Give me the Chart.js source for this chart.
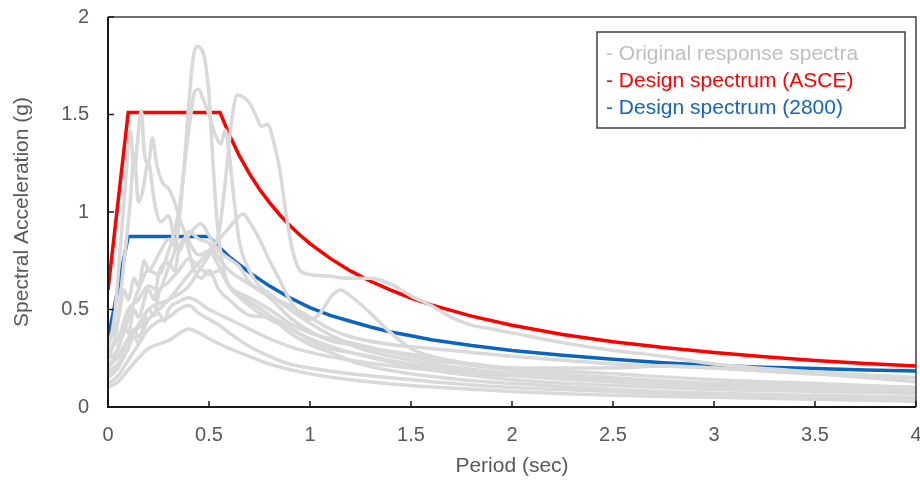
<!DOCTYPE html>
<html>
<head>
<meta charset="utf-8">
<script src="https://cdn.jsdelivr.net/npm/chart.js@4.4.1/dist/chart.umd.min.js"></script>
<style>
  body { margin: 0; background: #fff; }
  #wrap { width: 920px; height: 483px; }
</style>
</head>
<body>
<div id="wrap"><canvas id="spectraChart" width="920" height="483"></canvas></div>
<script>
// axis ticks
const periodTicks = [0, 0.5, 1, 1.5, 2, 2.5, 3, 3.5, 4];
const accelTicks = [0, 0.5, 1, 1.5, 2];

// design spectra, period (sec) / Sa (g)
const asceT  = [0, 0.1, 0.555, 0.6, 0.65, 0.7, 0.75, 0.8, 0.85, 0.9, 0.95, 1.0, 1.1, 1.2, 1.3, 1.4, 1.5, 1.6, 1.8, 2.0, 2.25, 2.5, 2.75, 3.0, 3.25, 3.5, 3.75, 4.0];
const asceSa = [0.6, 1.51, 1.51, 1.397, 1.289, 1.197, 1.117, 1.048, 0.986, 0.931, 0.882, 0.838, 0.762, 0.698, 0.645, 0.599, 0.559, 0.524, 0.466, 0.419, 0.372, 0.335, 0.305, 0.279, 0.258, 0.239, 0.223, 0.21];

const iranT  = [0, 0.1, 0.5, 0.55, 0.6, 0.65, 0.7, 0.8, 0.9, 1.0, 1.1, 1.2, 1.3, 1.4, 1.5, 1.6, 1.8, 2.0, 2.25, 2.5, 2.75, 3.0, 3.25, 3.5, 3.75, 4.0];
const iranSa = [0.35, 0.875, 0.875, 0.82, 0.77, 0.73, 0.69, 0.62, 0.56, 0.51, 0.47, 0.44, 0.41, 0.385, 0.365, 0.345, 0.315, 0.29, 0.265, 0.245, 0.227, 0.213, 0.204, 0.197, 0.19, 0.185];

// original response spectra, [period, Sa]
const rec1 = [[0,0.28],[0.05,0.35],[0.1,0.5],[0.15,0.55],[0.2,0.62],[0.25,0.6],[0.3,0.72],[0.34,0.85],[0.37,1.15],[0.4,1.55],[0.42,1.78],[0.44,1.85],[0.46,1.84],[0.48,1.78],[0.5,1.6],[0.52,1.25],[0.54,0.95],[0.57,0.72],[0.6,0.62],[0.65,0.57],[0.7,0.54],[0.8,0.47],[0.9,0.38],[1.0,0.32],[1.1,0.28],[1.25,0.22],[1.5,0.17],[1.75,0.14],[2.0,0.12],[2.5,0.09],[3.0,0.07],[3.5,0.06],[4.0,0.05]];
const rec2 = [[0,0.2],[0.05,0.3],[0.1,0.45],[0.15,0.6],[0.2,0.7],[0.25,0.68],[0.3,0.8],[0.35,1.0],[0.38,1.25],[0.41,1.5],[0.43,1.62],[0.45,1.63],[0.47,1.58],[0.5,1.5],[0.53,1.4],[0.56,1.35],[0.58,1.42],[0.6,1.3],[0.62,1.1],[0.65,0.85],[0.7,0.7],[0.75,0.62],[0.8,0.58],[0.9,0.5],[1.0,0.43],[1.1,0.37],[1.25,0.3],[1.5,0.24],[1.75,0.2],[2.0,0.17],[2.5,0.13],[3.0,0.1],[3.5,0.09],[4.0,0.07]];
const rec3 = [[0,0.15],[0.05,0.22],[0.1,0.35],[0.15,0.42],[0.2,0.5],[0.3,0.55],[0.4,0.62],[0.45,0.7],[0.5,0.78],[0.55,0.9],[0.58,1.15],[0.61,1.45],[0.64,1.6],[0.67,1.59],[0.7,1.56],[0.73,1.5],[0.76,1.44],[0.79,1.45],[0.82,1.36],[0.85,1.22],[0.88,1.0],[0.91,0.82],[0.95,0.7],[1.0,0.68],[1.1,0.67],[1.2,0.66],[1.3,0.66],[1.4,0.63],[1.5,0.57],[1.6,0.52],[1.7,0.46],[1.8,0.42],[1.9,0.4],[2.0,0.38],[2.25,0.33],[2.5,0.29],[2.75,0.26],[3.0,0.22],[3.5,0.18],[4.0,0.15]];
const rec4 = [[0,0.3],[0.03,0.45],[0.06,0.8],[0.09,1.2],[0.11,1.42],[0.13,1.2],[0.145,1.35],[0.165,1.52],[0.18,1.3],[0.2,1.25],[0.22,1.38],[0.24,1.25],[0.27,1.15],[0.3,1.12],[0.33,1.05],[0.36,0.95],[0.4,0.85],[0.45,0.78],[0.5,0.8],[0.55,0.72],[0.6,0.62],[0.7,0.52],[0.8,0.45],[0.9,0.4],[1.0,0.35],[1.2,0.28],[1.4,0.23],[1.6,0.19],[2.0,0.14],[2.5,0.11],[3.0,0.09],[3.5,0.08],[4.0,0.07]];
const rec5 = [[0,0.25],[0.04,0.38],[0.08,0.75],[0.11,1.05],[0.13,1.3],[0.15,1.05],[0.17,1.1],[0.2,1.25],[0.23,1.05],[0.26,0.95],[0.3,0.98],[0.34,0.82],[0.38,0.86],[0.42,0.72],[0.46,0.66],[0.5,0.7],[0.55,0.6],[0.6,0.55],[0.7,0.47],[0.8,0.46],[0.9,0.41],[1.0,0.34],[1.1,0.3],[1.25,0.27],[1.5,0.22],[1.75,0.19],[2.0,0.17],[2.5,0.14],[3.0,0.11],[3.5,0.09],[4.0,0.08]];
const rec6 = [[0,0.2],[0.05,0.26],[0.1,0.35],[0.2,0.45],[0.3,0.55],[0.4,0.68],[0.5,0.8],[0.55,0.86],[0.6,0.92],[0.64,0.97],[0.67,0.99],[0.7,0.95],[0.75,0.86],[0.8,0.75],[0.85,0.65],[0.9,0.55],[0.95,0.48],[1.0,0.45],[1.05,0.48],[1.1,0.56],[1.15,0.6],[1.2,0.57],[1.3,0.48],[1.4,0.38],[1.5,0.3],[1.6,0.26],[1.8,0.22],[2.0,0.2],[2.5,0.17],[3.0,0.14],[3.5,0.12],[4.0,0.1]];
const rec7 = [[0,0.25],[0.05,0.3],[0.08,0.42],[0.1,0.38],[0.13,0.5],[0.15,0.46],[0.2,0.6],[0.23,0.55],[0.25,0.68],[0.3,0.74],[0.33,0.7],[0.35,0.8],[0.4,0.88],[0.46,0.94],[0.5,0.88],[0.55,0.8],[0.6,0.76],[0.65,0.72],[0.7,0.64],[0.75,0.6],[0.8,0.57],[0.9,0.52],[1.0,0.46],[1.1,0.4],[1.2,0.36],[1.4,0.32],[1.6,0.3],[1.8,0.28],[2.0,0.26],[2.25,0.24],[2.5,0.22],[3.0,0.2],[3.5,0.17],[4.0,0.13]];
const rec8 = [[0,0.15],[0.05,0.2],[0.1,0.3],[0.13,0.36],[0.15,0.33],[0.2,0.5],[0.23,0.47],[0.25,0.58],[0.3,0.64],[0.35,0.7],[0.4,0.76],[0.45,0.72],[0.5,0.68],[0.55,0.7],[0.6,0.62],[0.7,0.56],[0.8,0.5],[0.9,0.43],[1.0,0.38],[1.1,0.35],[1.2,0.33],[1.4,0.28],[1.6,0.24],[1.8,0.22],[2.0,0.2],[2.25,0.2],[2.5,0.2],[2.75,0.21],[3.0,0.2],[3.5,0.17],[4.0,0.15]];
const rec9 = [[0,0.12],[0.05,0.16],[0.1,0.24],[0.15,0.32],[0.2,0.4],[0.25,0.44],[0.3,0.46],[0.35,0.5],[0.4,0.52],[0.45,0.48],[0.5,0.45],[0.55,0.42],[0.6,0.38],[0.7,0.31],[0.8,0.26],[0.9,0.22],[1.0,0.2],[1.2,0.17],[1.4,0.15],[1.6,0.13],[2.0,0.1],[2.5,0.08],[3.0,0.06],[3.5,0.05],[4.0,0.04]];
const rec10 = [[0,0.1],[0.05,0.13],[0.1,0.19],[0.15,0.25],[0.2,0.3],[0.3,0.34],[0.4,0.4],[0.45,0.38],[0.5,0.35],[0.6,0.3],[0.7,0.26],[0.8,0.22],[1.0,0.17],[1.2,0.14],[1.5,0.11],[2.0,0.08],[2.5,0.06],[3.0,0.05],[3.5,0.04],[4.0,0.03]];
const rec11 = [[0,0.32],[0.05,0.45],[0.08,0.6],[0.1,0.55],[0.13,0.66],[0.15,0.62],[0.18,0.75],[0.2,0.7],[0.25,0.78],[0.3,0.86],[0.35,0.8],[0.4,0.9],[0.45,0.86],[0.5,0.84],[0.55,0.76],[0.6,0.7],[0.7,0.63],[0.8,0.56],[0.9,0.46],[1.0,0.39],[1.1,0.34],[1.2,0.32],[1.3,0.3],[1.5,0.27],[1.7,0.23],[2.0,0.19],[2.5,0.15],[3.0,0.12],[3.5,0.1],[4.0,0.09]];
const rec12 = [[0,0.18],[0.05,0.22],[0.1,0.3],[0.13,0.4],[0.15,0.36],[0.2,0.45],[0.25,0.48],[0.28,0.44],[0.3,0.5],[0.35,0.54],[0.4,0.56],[0.5,0.5],[0.6,0.45],[0.7,0.4],[0.8,0.35],[0.9,0.31],[1.0,0.28],[1.2,0.24],[1.5,0.2],[2.0,0.16],[2.5,0.13],[3.0,0.12],[3.5,0.11],[4.0,0.1]];

const records = [rec1, rec2, rec3, rec4, rec5, rec6, rec7, rec8, rec9, rec10, rec11, rec12];

const legendItems = [
    { text: '- Original response spectra', color: '#bfbfbf' },
    { text: '- Design spectrum (ASCE)', color: '#ff0000' },
    { text: '- Design spectrum (2800)', color: '#1565c0' }
];

const fontFamily = '"Liberation Sans", Arial, sans-serif';
const axisColor = '#595959';

function toPoints(ts, vals) {
    return ts.map(function (t, i) { return { x: t, y: vals[i] }; });
}

const datasets = records.map(function (rec) {
    return {
        data: rec.map(function (p) { return { x: p[0], y: p[1] }; }),
        borderColor: '#d9d9d9',
        borderWidth: 3.5,
        pointRadius: 0,
        cubicInterpolationMode: 'monotone',
        fill: false
    };
});

datasets.push({
    data: toPoints(asceT, asceSa),
    borderColor: '#ff0000',
    borderWidth: 3.5,
    pointRadius: 0,
    tension: 0,
    fill: false
});
datasets.push({
    data: toPoints(iranT, iranSa),
    borderColor: '#0a64c0',
    borderWidth: 3.5,
    pointRadius: 0,
    tension: 0,
    fill: false
});

// box around plot + inward tick marks
const framePlugin = {
    id: 'frame',
    afterDatasetsDraw(chart) {
        const ctx = chart.ctx;
        const a = chart.chartArea;
        const xs = chart.scales.x, ys = chart.scales.y;
        ctx.save();
        ctx.strokeStyle = '#404040';
        ctx.lineWidth = 1.5;
        ctx.beginPath();
        ctx.moveTo(a.left, a.top);
        ctx.lineTo(a.right, a.top);
        ctx.lineTo(a.right, a.bottom);
        ctx.stroke();
        ctx.strokeStyle = '#1a1a1a';
        ctx.lineWidth = 2;
        ctx.beginPath();
        ctx.moveTo(a.left, a.top);
        ctx.lineTo(a.left, a.bottom);
        ctx.lineTo(a.right, a.bottom);
        ctx.stroke();
        ctx.lineWidth = 1.5;
        periodTicks.forEach(function (t) {
            const px = xs.getPixelForValue(t);
            ctx.beginPath();
            ctx.moveTo(px, a.bottom);
            ctx.lineTo(px, a.bottom - 6);
            ctx.stroke();
        });
        accelTicks.forEach(function (v) {
            const py = ys.getPixelForValue(v);
            ctx.beginPath();
            ctx.moveTo(a.left, py);
            ctx.lineTo(a.left + 6, py);
            ctx.stroke();
        });
        ctx.restore();
    }
};

const legendPlugin = {
    id: 'boxLegend',
    afterDraw(chart) {
        const ctx = chart.ctx;
        ctx.save();
        ctx.fillStyle = '#ffffff';
        ctx.fillRect(597, 32, 308, 96);
        ctx.strokeStyle = '#404040';
        ctx.lineWidth = 1.5;
        ctx.strokeRect(597, 32, 308, 96);
        ctx.font = '21px ' + fontFamily;
        ctx.textBaseline = 'middle';
        ctx.textAlign = 'left';
        legendItems.forEach(function (item, i) {
            ctx.fillStyle = item.color;
            ctx.fillText(item.text, 606, 54 + i * 27);
        });
        ctx.restore();
    }
};

const ctx = document.getElementById('spectraChart').getContext('2d');
new Chart(ctx, {
    type: 'line',
    data: { datasets: datasets },
    options: {
        responsive: false,
        animation: false,
        layout: { padding: { top: 17, right: 4, left: 0, bottom: 0 } },
        plugins: {
            legend: { display: false },
            tooltip: { enabled: false }
        },
        scales: {
            x: {
                type: 'linear',
                min: 0,
                max: 4,
                afterBuildTicks: function (scale) {
                    scale.ticks = periodTicks.map(function (v) { return { value: v }; });
                },
                afterFit: function (scale) {
                    scale.height = 76;
                    scale.paddingLeft = 0;
                    scale.paddingRight = 0;
                },
                grid: { display: false, drawTicks: false },
                border: { display: false },
                ticks: {
                    color: axisColor,
                    padding: 16,
                    maxRotation: 0,
                    callback: function (v) { return String(v); },
                    font: { family: fontFamily, size: 20 }
                },
                title: {
                    display: true,
                    text: 'Period (sec)',
                    color: axisColor,
                    padding: { top: 0, bottom: 4 },
                    font: { family: fontFamily, size: 21 }
                }
            },
            y: {
                min: 0,
                max: 2,
                afterBuildTicks: function (scale) {
                    scale.ticks = accelTicks.map(function (v) { return { value: v }; });
                },
                afterFit: function (scale) {
                    scale.width = 108;
                    scale.paddingTop = 0;
                    scale.paddingBottom = 0;
                },
                grid: { display: false, drawTicks: false },
                border: { display: false },
                ticks: {
                    color: axisColor,
                    padding: 19,
                    callback: function (v) { return String(v); },
                    font: { family: fontFamily, size: 20 }
                },
                title: {
                    display: true,
                    text: 'Spectral Acceleration (g)',
                    color: axisColor,
                    padding: { top: 10, bottom: 0 },
                    font: { family: fontFamily, size: 21 }
                }
            }
        }
    },
    plugins: [framePlugin, legendPlugin]
});
</script>
</body>
</html>
